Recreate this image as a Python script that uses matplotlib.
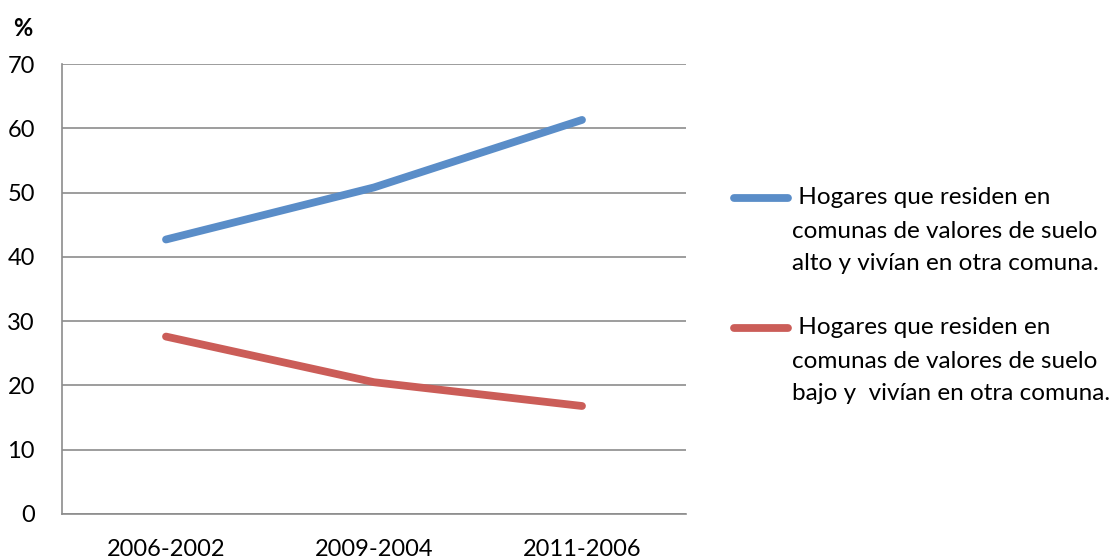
import matplotlib.pyplot as plt
from matplotlib.lines import Line2D

plt.rcParams['font.family'] = ['Lato', 'DejaVu Sans']

periods = ['2006-2002', '2009-2004', '2011-2006']
alto = [42.7, 50.8, 61.3]
bajo = [27.6, 20.5, 16.8]
labels = [' Hogares que residen en\ncomunas de valores de suelo\nalto y vivían en otra comuna.',
          ' Hogares que residen en\ncomunas de valores de suelo\nbajo y  vivían en otra comuna.']
colors = ['#5A8DC8', '#CB5D58']
yticks = list(range(0, 71, 10))

W, H = 1118, 558
fig = plt.figure(figsize=(W / 100, H / 100), dpi=100)
ax = fig.add_axes([62 / W, 44 / H, 624 / W, 450 / H])

x = list(range(len(periods)))
for vals, c in zip([alto, bajo], colors):
    ax.plot(x, vals, color=c, lw=5.6, solid_capstyle='round')

ax.set_xlim(-0.5, 2.5)
ax.set_ylim(0, 70)
ax.set_yticks(yticks)
ax.set_xticks(x)
ax.set_xticklabels(periods)
ax.tick_params(axis='both', length=0, labelsize=17, colors='black')
ax.tick_params(axis='x', pad=18)
ax.tick_params(axis='y', pad=19.5)
ax.grid(axis='y', color='#8c8c8c', lw=1.2)
ax.set_axisbelow(True)
for s in ['top', 'right']:
    ax.spines[s].set_visible(False)
for s in ['left', 'bottom']:
    ax.spines[s].set_color('#8c8c8c')
    ax.spines[s].set_linewidth(1.2)

fig.text(23 / W, 1 - 29 / H, '%', fontsize=17, fontweight='bold', ha='center', va='center')

# legend drawn by hand: handle beside the first line, as in the original
entry_top = [198, 328]
pitch = 33
for lab, c, y0 in zip(labels, colors, entry_top):
    fig.add_artist(Line2D([734 / W, 788 / W], [1 - y0 / H, 1 - y0 / H],
                          color=c, lw=5.6, solid_capstyle='round'))
    for i, line in enumerate(lab.split('\n')):
        fig.text(792 / W, 1 - (y0 + i * pitch) / H, line, fontsize=17.5,
                 ha='left', va='center')

fig.savefig('out.png', dpi=100)
